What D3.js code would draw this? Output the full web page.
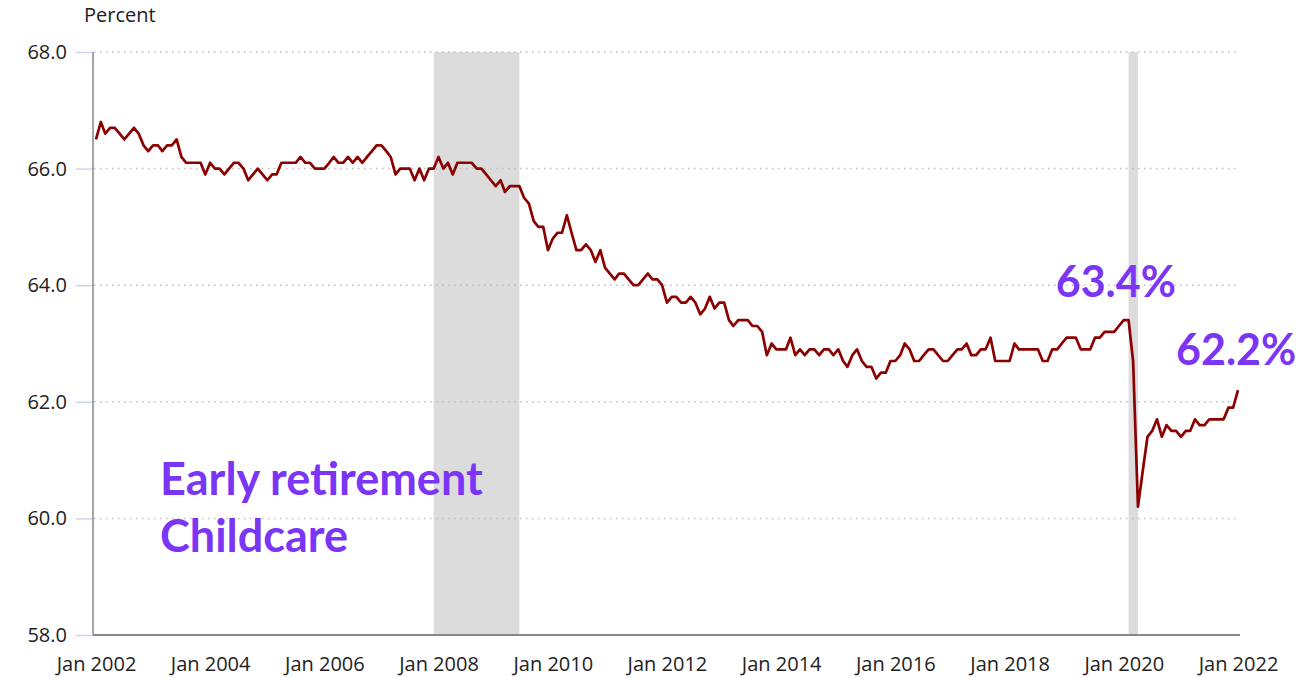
<!DOCTYPE html>
<html>
<head>
<meta charset="utf-8">
<script src="https://cdn.jsdelivr.net/npm/d3@7"></script>
<style>
  body { margin: 0; background: #fff; }
  text { font-family: "Open Sans", sans-serif; }
</style>
</head>
<body>
<script>
// labor force participation rate, monthly, Jan 2002 .. Jan 2022
var startYear = 2002;
var rate = [
  66.5, 66.8, 66.6, 66.7, 66.7, 66.6, 66.5, 66.6, 66.7, 66.6, 66.4, 66.3,
  66.4, 66.4, 66.3, 66.4, 66.4, 66.5, 66.2, 66.1, 66.1, 66.1, 66.1, 65.9,
  66.1, 66.0, 66.0, 65.9, 66.0, 66.1, 66.1, 66.0, 65.8, 65.9, 66.0, 65.9,
  65.8, 65.9, 65.9, 66.1, 66.1, 66.1, 66.1, 66.2, 66.1, 66.1, 66.0, 66.0,
  66.0, 66.1, 66.2, 66.1, 66.1, 66.2, 66.1, 66.2, 66.1, 66.2, 66.3, 66.4,
  66.4, 66.3, 66.2, 65.9, 66.0, 66.0, 66.0, 65.8, 66.0, 65.8, 66.0, 66.0,
  66.2, 66.0, 66.1, 65.9, 66.1, 66.1, 66.1, 66.1, 66.0, 66.0, 65.9, 65.8,
  65.7, 65.8, 65.6, 65.7, 65.7, 65.7, 65.5, 65.4, 65.1, 65.0, 65.0, 64.6,
  64.8, 64.9, 64.9, 65.2, 64.9, 64.6, 64.6, 64.7, 64.6, 64.4, 64.6, 64.3,
  64.2, 64.1, 64.2, 64.2, 64.1, 64.0, 64.0, 64.1, 64.2, 64.1, 64.1, 64.0,
  63.7, 63.8, 63.8, 63.7, 63.7, 63.8, 63.7, 63.5, 63.6, 63.8, 63.6, 63.7,
  63.7, 63.4, 63.3, 63.4, 63.4, 63.4, 63.3, 63.3, 63.2, 62.8, 63.0, 62.9,
  62.9, 62.9, 63.1, 62.8, 62.9, 62.8, 62.9, 62.9, 62.8, 62.9, 62.9, 62.8,
  62.9, 62.7, 62.6, 62.8, 62.9, 62.7, 62.6, 62.6, 62.4, 62.5, 62.5, 62.7,
  62.7, 62.8, 63.0, 62.9, 62.7, 62.7, 62.8, 62.9, 62.9, 62.8, 62.7, 62.7,
  62.8, 62.9, 62.9, 63.0, 62.8, 62.8, 62.9, 62.9, 63.1, 62.7, 62.7, 62.7,
  62.7, 63.0, 62.9, 62.9, 62.9, 62.9, 62.9, 62.7, 62.7, 62.9, 62.9, 63.0,
  63.1, 63.1, 63.1, 62.9, 62.9, 62.9, 63.1, 63.1, 63.2, 63.2, 63.2, 63.3,
  63.4, 63.4, 62.7, 60.2, 60.8, 61.4, 61.5, 61.7, 61.4, 61.6, 61.5, 61.5,
  61.4, 61.5, 61.5, 61.7, 61.6, 61.6, 61.7, 61.7, 61.7, 61.7, 61.9, 61.9,
  62.2
];

// recessions (start, end)
var recessions = [["2007-12-01", "2009-06-01"], ["2020-02-01", "2020-04-01"]];

var yTicks = [58, 60, 62, 64, 66, 68];
var xTickYears = [2002, 2004, 2006, 2008, 2010, 2012, 2014, 2016, 2018, 2020, 2022];

var notes = ["Early retirement", "Childcare"];
var peakDate = new Date(2020, 0, 1);

var width = 1301, height = 678;
var purple = "#7b35f5";

var data = rate.map(function(v, i) {
  return { date: new Date(startYear, i, 1), value: v };
});

var svg = d3.select("body").append("svg")
  .attr("width", width)
  .attr("height", height);

var x = d3.scaleTime()
  .domain([new Date(2002, 0, 1), new Date(2022, 0, 1)])
  .range([96, 1238]);
var y = d3.scaleLinear().domain([58, 68]).range([635, 52]);

var parse = d3.timeParse("%Y-%m-%d");

// shaded recessions
svg.selectAll("rect.rec")
  .data(recessions)
  .enter().append("rect")
  .attr("class", "rec")
  .attr("x", function(d) { return x(parse(d[0])); })
  .attr("width", function(d) { return x(parse(d[1])) - x(parse(d[0])); })
  .attr("y", y(68))
  .attr("height", y(58) - y(68))
  .attr("fill", "#dcdcdc");

// dotted grid
svg.selectAll("line.grid")
  .data(yTicks.filter(function(t) { return t > 58; }))
  .enter().append("line")
  .attr("class", "grid")
  .attr("x1", 94).attr("x2", 1238)
  .attr("y1", function(d) { return y(d); })
  .attr("y2", function(d) { return y(d); })
  .attr("stroke", "#bdbdbd")
  .attr("stroke-width", 1.5)
  .attr("stroke-dasharray", "1.5,4.5");

// y axis
var yAxis = svg.append("g")
  .attr("transform", "translate(93,0)")
  .call(d3.axisLeft(y).tickValues(yTicks).tickFormat(d3.format(".1f")).tickSize(17).tickPadding(9));
yAxis.select(".domain").remove();
yAxis.selectAll(".tick line").attr("stroke", "#ccd6eb").attr("stroke-width", 1.5);
yAxis.selectAll(".tick text")
  .attr("fill", "#222")
  .style("font-size", "20px")
  .style("font-family", "'Open Sans', sans-serif");

svg.append("line")
  .attr("x1", 93).attr("x2", 93)
  .attr("y1", y(68)).attr("y2", y(58))
  .attr("stroke", "#888").attr("stroke-width", 1.5);

// x axis
var xAxis = svg.append("g")
  .attr("transform", "translate(0," + y(58) + ")")
  .call(d3.axisBottom(x)
    .tickValues(xTickYears.map(function(yr) { return new Date(yr, 0, 1); }))
    .tickFormat(d3.timeFormat("%b %Y"))
    .tickSize(0).tickPadding(22));
xAxis.select(".domain").remove();
xAxis.selectAll(".tick text")
  .attr("fill", "#222")
  .style("font-size", "20px")
  .style("font-family", "'Open Sans', sans-serif");

svg.append("line")
  .attr("x1", 93).attr("x2", 1240)
  .attr("y1", y(58)).attr("y2", y(58))
  .attr("stroke", "#888").attr("stroke-width", 2);

svg.append("text")
  .attr("x", 84).attr("y", 22)
  .attr("fill", "#222")
  .style("font-size", "20px")
  .text("Percent");

// the series
var line = d3.line()
  .x(function(d) { return x(d.date); })
  .y(function(d) { return y(d.value); });

svg.append("path")
  .datum(data)
  .attr("fill", "none")
  .attr("stroke", "#8b0000")
  .attr("stroke-width", 2.7)
  .attr("stroke-linejoin", "round")
  .attr("d", line);

// annotations
var peak = data.filter(function(d) { return +d.date === +peakDate; })[0];
var last = data[data.length - 1];

svg.append("text")
  .attr("x", x(peak.date) - 68).attr("y", 297)
  .attr("fill", purple)
  .style("font-family", "Lato, sans-serif").style("font-weight", "bold").style("font-size", "43px")
  .text(peak.value.toFixed(1) + "%");

svg.append("text")
  .attr("x", x(last.date) - 62).attr("y", 365)
  .attr("fill", purple)
  .style("font-family", "Lato, sans-serif").style("font-weight", "bold").style("font-size", "43px")
  .text(last.value.toFixed(1) + "%");

svg.selectAll("text.note")
  .data(notes)
  .enter().append("text")
  .attr("class", "note")
  .attr("x", 160)
  .attr("y", function(d, i) { return 495 + i * 57; })
  .attr("fill", purple)
  .style("font-family", "Lato, sans-serif").style("font-weight", "bold").style("font-size", "45px")
  .text(function(d) { return d; });
</script>
</body>
</html>
